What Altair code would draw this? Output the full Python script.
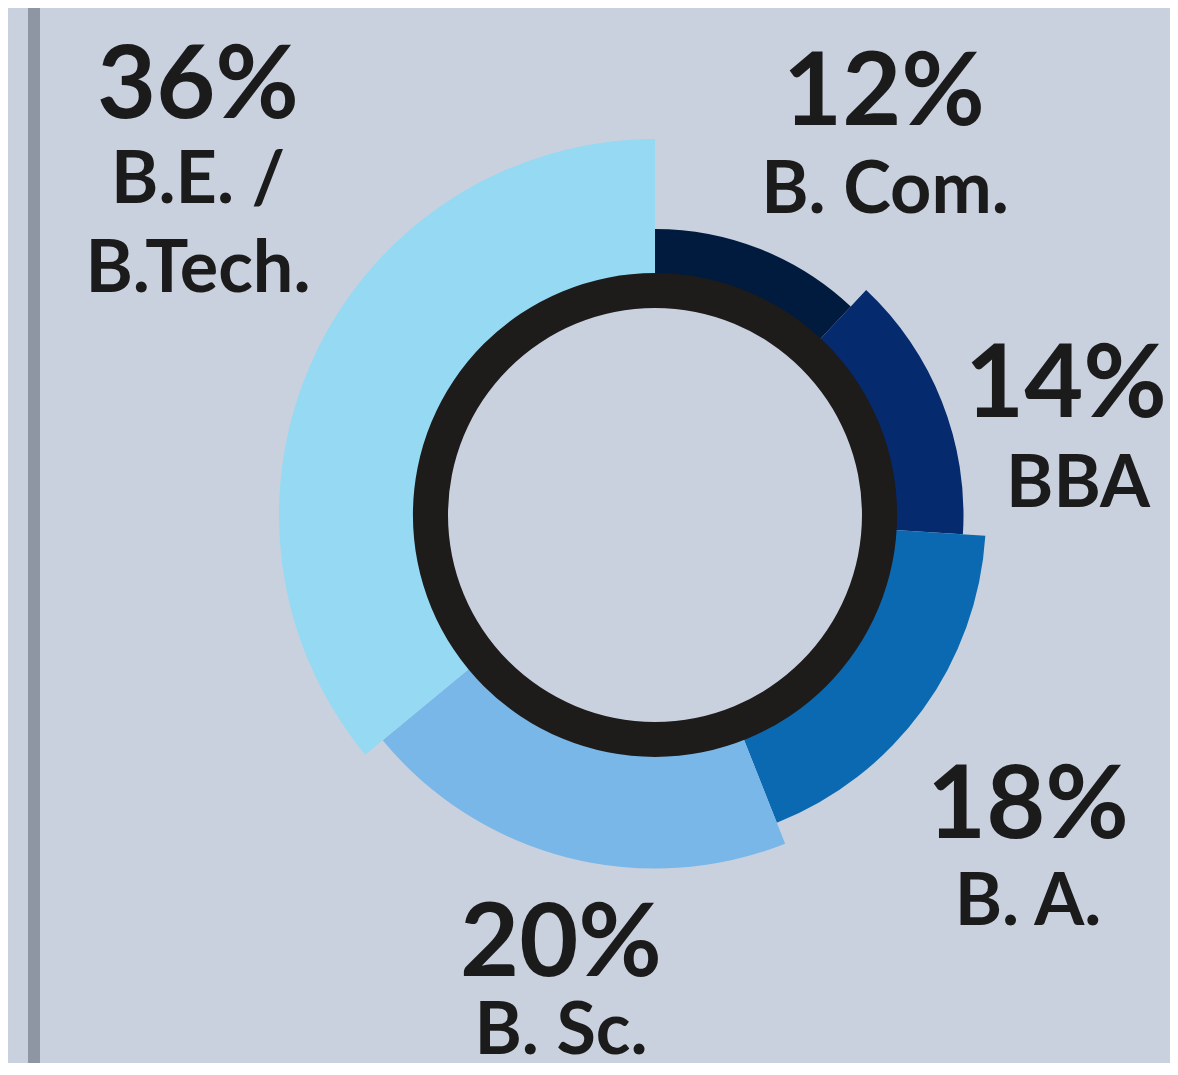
import altair as alt
import pandas as pd

# ---- data ----
categories = ["B. Com.", "BBA", "B. A.", "B. Sc.", "B.E. /\nB.Tech."]
values = [12, 14, 18, 20, 36]
rank = [1, 2, 3, 4, 5]

# ---- styling / layout ----
colors = ["#011b3f", "#052a6d", "#0a69b1", "#79b7e8", "#95d9f3"]
BG = "#cad1de"
W, H = 1162, 1055
CX, CY = 647, 507
# label anchor positions (plot px): percent line and name line
pct_xy = [(876, 117), (1058, 409), (1020, 830), (553, 968), (190, 110)]
name_xy = [(877, 205), (1070, 499), (1020, 917), (553, 1046), (190, 195)]

df = pd.DataFrame({"category": categories, "value": values, "rank": rank})
df["pct"] = [f"{v}%" for v in values]
df["px"] = [p[0] for p in pct_xy]
df["py"] = [p[1] for p in pct_xy]
df["nx"] = [p[0] for p in name_xy]
df["ny"] = [p[1] for p in name_xy]

one = alt.Data(values=[{"k": 1}])

divider = alt.Chart(one).mark_rule(color="#8f96a3", strokeWidth=12).encode(
    x=alt.value(26), y=alt.value(0), y2=alt.value(H)
)

arcs = alt.Chart(df).transform_window(
    end="sum(value)", sort=[alt.SortField("rank", order="ascending")], frame=[None, 0]
).transform_calculate(
    start="datum.end - datum.value"
).mark_arc().encode(
    theta=alt.Theta("start:Q", scale=alt.Scale(domain=[0, 100], range=[0, 6.283185])),
    theta2="end:Q",
    radius=alt.Radius("rank:Q", scale=alt.Scale(type="linear", domain=[1, 5], range=[286, 376], zero=False)),
    radius2=alt.value(224),
    color=alt.Color("category:N", scale=alt.Scale(domain=categories, range=colors), legend=None),
    x=alt.value(CX),
    y=alt.value(CY),
)

ring = alt.Chart(one).mark_arc(
    color="#1e1b1b", theta=0, theta2=6.2832, radius=242, radius2=207
).encode(x=alt.value(CX), y=alt.value(CY))

pct_text = alt.Chart(df).mark_text(
    font="Lato", fontWeight="bold", fontSize=102, color="#1b1b1b",
    align="center", baseline="alphabetic"
).encode(
    x=alt.X("px:Q", scale=None), y=alt.Y("py:Q", scale=None), text="pct:N"
)

name_text = alt.Chart(df).mark_text(
    font="Lato", fontWeight="bold", fontSize=72, color="#1b1b1b",
    align="center", baseline="alphabetic", lineBreak="\n", lineHeight=89
).encode(
    x=alt.X("nx:Q", scale=None), y=alt.Y("ny:Q", scale=None), text="category:N"
)

chart = alt.layer(divider, arcs, ring, pct_text, name_text).properties(
    width=W, height=H, padding=0, background=BG,
    autosize=alt.AutoSizeParams(type="none")
).configure_view(stroke=None)

chart.save("out.html", embed_options={"renderer": "svg", "actions": False})
